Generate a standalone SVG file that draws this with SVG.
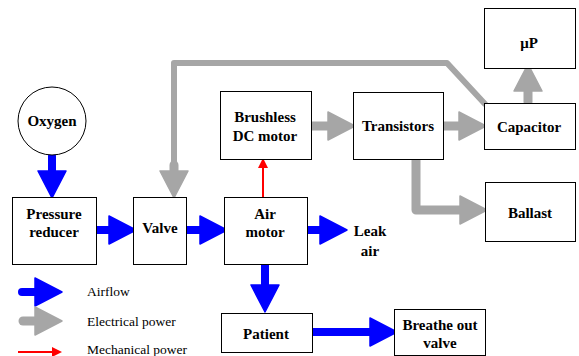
<svg xmlns="http://www.w3.org/2000/svg" width="579" height="356" viewBox="0 0 579 356">
<style>
.box{fill:#fff;stroke:#000;stroke-width:1}
.t{font-weight:bold;font-size:15px;text-anchor:middle;fill:#000}
.lg{font-size:13.5px;fill:#000}
.air{fill:none;stroke:#0000ff;stroke-width:8;stroke-linecap:round;stroke-linejoin:round}
.el{fill:none;stroke:#a6a6a6;stroke-width:9;stroke-linecap:round;stroke-linejoin:round}
.elw{fill:none;stroke:#a6a6a6;stroke-width:6;stroke-linecap:round;stroke-linejoin:round}
.mech{fill:none;stroke:#ff0000;stroke-width:2}
</style>
<defs>
<marker id="hb" markerUnits="userSpaceOnUse" markerWidth="30" markerHeight="30" refX="0" refY="14" orient="auto" overflow="visible">
<path d="M0,0 L27,14 L0,28 z" fill="#0000ff" stroke="#0000ff" stroke-width="1.5" stroke-linejoin="round"/>
</marker>
<marker id="hg" markerUnits="userSpaceOnUse" markerWidth="30" markerHeight="30" refX="0" refY="14" orient="auto" overflow="visible">
<path d="M0,0 L27,14 L0,28 z" fill="#a6a6a6" stroke="#a6a6a6" stroke-width="1.5" stroke-linejoin="round"/>
</marker>
<marker id="hr" markerUnits="userSpaceOnUse" markerWidth="12" markerHeight="12" refX="0" refY="5" orient="auto" overflow="visible">
<path d="M0,0 L10,5 L0,10 z" fill="#ff0000"/>
</marker>
</defs>
<rect width="579" height="356" fill="#fff"/>

<g id="connectors">
<line class="air" x1="52" y1="156" x2="52" y2="171" marker-end="url(#hb)"/>
<line class="air" x1="96" y1="230" x2="109" y2="230" marker-end="url(#hb)"/>
<line class="air" x1="186" y1="230" x2="200" y2="230" marker-end="url(#hb)"/>
<line class="air" x1="307" y1="230" x2="320" y2="230" marker-end="url(#hb)"/>
<line class="air" x1="265" y1="265" x2="265" y2="285" marker-end="url(#hb)"/>
<line class="air" x1="312" y1="332" x2="370" y2="332" marker-end="url(#hb)"/>
<polyline class="elw" points="485,104 447,63 174,63 174,171"/>
<line class="el" x1="174" y1="165" x2="174" y2="171" marker-end="url(#hg)"/>
<line class="el" x1="311" y1="126" x2="328" y2="126" marker-end="url(#hg)"/>
<line class="el" x1="443" y1="126" x2="459" y2="126" marker-end="url(#hg)"/>
<line class="el" x1="528" y1="102" x2="528" y2="91" marker-end="url(#hg)"/>
<polyline class="el" points="416,160 416,210 460,210" marker-end="url(#hg)"/>
<line class="mech" x1="263" y1="197" x2="263" y2="168" marker-end="url(#hr)"/>
</g>

<g font-family="Liberation Serif, serif">
<g id="oxygen"><circle cx="52" cy="121" r="34" fill="#fff" stroke="#000" stroke-width="1"/><text class="t" x="52" y="126">Oxygen</text></g>
<g id="pressure-reducer"><rect class="box" x="12.5" y="197.5" width="84" height="67"/><text class="t" x="54" y="219">Pressure</text><text class="t" x="54" y="237">reducer</text></g>
<g id="valve"><rect class="box" x="133.5" y="197.5" width="53" height="67"/><text class="t" x="160" y="233">Valve</text></g>
<g id="air-motor"><rect class="box" x="224.5" y="197.5" width="83" height="67"/><text class="t" x="265" y="219">Air</text><text class="t" x="265" y="237">motor</text></g>
<g id="brushless"><rect class="box" x="220.5" y="91.5" width="91" height="68"/><text class="t" x="265" y="122">Brushless</text><text class="t" x="265" y="141">DC motor</text></g>
<g id="transistors"><rect class="box" x="353.5" y="92.5" width="90" height="67"/><text class="t" x="398" y="131">Transistors</text></g>
<g id="capacitor"><rect class="box" x="484.5" y="103.5" width="91" height="46"/><text class="t" x="529" y="132">Capacitor</text></g>
<g id="microprocessor"><rect class="box" x="484.5" y="8.5" width="91" height="60"/><text class="t" x="529" y="48">μP</text></g>
<g id="ballast"><rect class="box" x="485.5" y="182.5" width="90" height="59"/><text class="t" x="530" y="218">Ballast</text></g>
<g id="leak-air"><text class="t" x="370" y="236">Leak</text><text class="t" x="370" y="256">air</text></g>
<g id="patient"><rect class="box" x="221.5" y="313.5" width="91" height="39"/><text class="t" x="266" y="339">Patient</text></g>
<g id="breathe-out-valve"><rect class="box" x="394.5" y="309.5" width="91" height="46"/><text class="t" x="440" y="330">Breathe out</text><text class="t" x="440" y="348">valve</text></g>

<g id="legend">
<line class="air" x1="22" y1="292" x2="35" y2="292" marker-end="url(#hb)"/>
<text class="lg" x="87" y="296">Airflow</text>
<line class="el" x1="23" y1="321" x2="35" y2="321" marker-end="url(#hg)"/>
<text class="lg" x="87" y="326">Electrical power</text>
<line class="mech" x1="18" y1="352" x2="52" y2="352" marker-end="url(#hr)"/>
<text class="lg" x="87" y="354">Mechanical power</text>
</g>
</g>
</svg>
